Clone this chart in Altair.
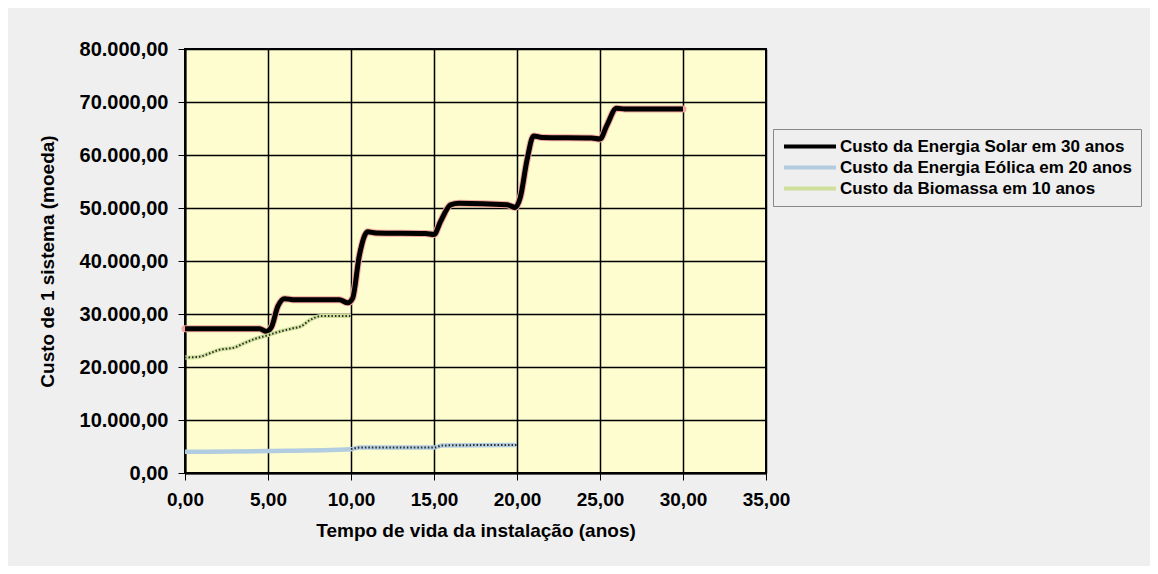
import altair as alt
import pandas as pd

S = "Custo da Energia Solar em 30 anos"
E = "Custo da Energia Eólica em 20 anos"
B = "Custo da Biomassa em 10 anos"

solar_x = [0, 4.5, 4.9, 5.2, 5.6, 6.0, 6.5, 9.3, 9.8, 10.1, 10.5, 11.0, 11.5, 14.5, 15.0, 15.4, 16.0, 16.5,
           19.4, 19.9, 20.2, 20.6, 21.0, 21.5, 24.5, 25.0, 25.4, 26.0, 26.5, 30.0]
solar_y = [27200, 27200, 26700, 27500, 31500, 32900, 32700, 32700, 32100, 33000, 41000, 45500, 45300, 45200,
           45000, 47500, 50600, 50900, 50600, 50100, 52000, 59000, 63600, 63300, 63200, 63000, 65500, 68800,
           68700, 68700]

eol_x = [0, 5, 10, 10.5, 15, 15.5, 20]
eol_y = [4000, 4150, 4500, 4800, 4800, 5200, 5300]

bio_x = [0, 0.8, 1.5, 2.0, 3.0, 3.5, 4.2, 5.0, 5.5, 6.5, 7.0, 7.5, 8.2, 10.0]
bio_y = [21800, 21900, 22600, 23200, 23700, 24400, 25300, 26000, 26500, 27300, 27700, 28800, 29600, 29600]

series = [S, E, B]
main_colors = ["#000000", "#b3cde0", "#cfe09a"]
halo_colors = ["#f4a79c", "#c9dcea", "#e2ecbd"]

rows = []
for name, xs, ys in [(S, solar_x, solar_y), (E, eol_x, eol_y), (B, bio_x, bio_y)]:
    for i, (a, b) in enumerate(zip(xs, ys)):
        rows.append({"serie": name, "x": a, "y": b, "ord": i})
df = pd.DataFrame(rows)

x_enc = alt.X("x:Q", scale=alt.Scale(domain=[0, 35], nice=False),
              axis=alt.Axis(values=list(range(0, 36, 5)), format=",.2f", labelFlush=False,
                            title="Tempo de vida da instalação (anos)",
                            titleFont="Liberation Sans", titleFontSize=19, titleFontWeight="bold",
                            titleColor="black", titleY=48,
                            labelFont="Liberation Sans", labelFontSize=19, labelFontWeight="bold",
                            labelColor="black", labelPadding=10, tickSize=7, tickColor="black",
                            domainColor="black", domainWidth=2, gridColor="black", gridWidth=1.5,
                            gridOpacity=1))
y_enc = alt.Y("y:Q", scale=alt.Scale(domain=[0, 80000], nice=False),
              axis=alt.Axis(values=list(range(0, 80001, 10000)), format=",.2f", labelFlush=False,
                            title="Custo de 1 sistema (moeda)",
                            titleFont="Liberation Sans", titleFontSize=19, titleFontWeight="bold",
                            titleColor="black", titleX=-138, titleY=212, titleAngle=270,
                            titleBaseline="middle", titleAlign="center",
                            labelFont="Liberation Sans", labelFontSize=20, labelFontWeight="bold",
                            labelColor="black", labelPadding=10, tickSize=7, tickColor="black",
                            domainColor="black", domainWidth=2, gridColor="black", gridWidth=1.5,
                            gridOpacity=1))

base = alt.Chart(df)

halo = base.mark_line(interpolate="monotone", strokeWidth=7, strokeCap="round").encode(
    x=x_enc, y=y_enc, order="ord:Q",
    color=alt.Color("serie:N", scale=alt.Scale(domain=series, range=halo_colors), legend=None),
).transform_filter(alt.datum.serie == S)

main = base.mark_line(interpolate="monotone", strokeCap="butt").encode(
    x="x:Q", y="y:Q", order="ord:Q",
    color=alt.Color("serie:N", scale=alt.Scale(domain=series, range=main_colors),
                    legend=alt.Legend(title=None, orient="none", legendX=588, legendY=80,
                                      symbolType="M-1,0H7", symbolSize=169, symbolStrokeWidth=4,
                                      labelFont="Liberation Sans", labelFontSize=17,
                                      labelFontWeight="bold", labelColor="black", labelLimit=600,
                                      rowPadding=3, labelOffset=41, padding=9,
                                      fillColor="#efefef", strokeColor="#888888")),
    strokeWidth=alt.StrokeWidth("serie:N", scale=alt.Scale(domain=series, range=[5, 4, 3.5]), legend=None),
)

dots = base.mark_line(interpolate="monotone", color="#2a2a2a", strokeWidth=2,
                      strokeDash=[1.5, 2]).encode(
    x="x:Q", y="y:Q", order="ord:Q", detail="serie:N",
).transform_filter((alt.datum.serie == B) | ((alt.datum.serie == E) & (alt.datum.x >= 10)))

chart = alt.layer(halo, main, dots).resolve_scale(color="independent").properties(
    width=581, height=424,
    autosize=alt.AutoSizeParams(type="none"),
    padding={"left": 177, "top": 41, "right": 384, "bottom": 93},
    background="#efefef",
).configure(
    locale={"number": {"decimal": ",", "thousands": ".", "grouping": [3], "currency": ["", ""]}}
).configure_view(fill="#fdfdd0", stroke="black", strokeWidth=2)

chart.save("out.html", embed_options={"renderer": "svg", "actions": False})
